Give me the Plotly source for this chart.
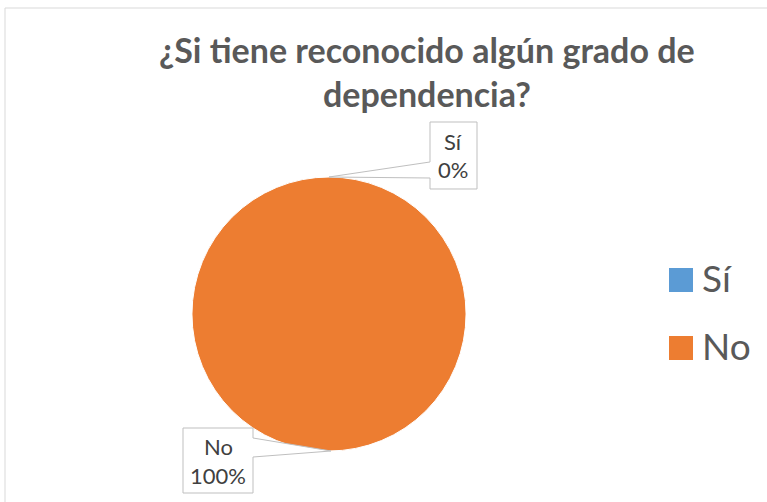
import plotly.graph_objects as go

# data
labels = ['Sí', 'No']
values = [0, 100]
colors = ['#5B9BD5', '#ED7D31']
title_lines = ['¿Si tiene reconocido algún grado de', 'dependencia?']

W, H = 767, 502


def px(x):
    return x / W


def py(y):
    return 1 - y / H


total = sum(values)
pcts = ['%d%%' % round(100 * v / total) for v in values]

fig = go.Figure()
fig.add_trace(go.Pie(labels=labels, values=values,
                     marker=dict(colors=colors, line=dict(color='white', width=1)),
                     textinfo='none', sort=False, direction='clockwise',
                     rotation=0, showlegend=False,
                     domain=dict(x=[px(192), px(466)], y=[py(451), py(177)])))

shapes = []
annotations = []

# chart area border
shapes.append(dict(type='rect', xref='paper', yref='paper',
                   x0=px(5), x1=px(800), y0=py(8), y1=py(520),
                   line=dict(color='#D9D9D9', width=1)))

# title
for i, t in enumerate(title_lines):
    annotations.append(dict(text='<b>%s</b>' % t, xref='paper', yref='paper',
                            x=px(427), y=py(49 + 44 * i), showarrow=False,
                            xanchor='center', yanchor='middle',
                            font=dict(family='Lato', size=34, color='#595959')))

# callout boxes: box (x0, y0, x1, y1), wedge side, wedge y's, anchor on pie
callouts = [
    dict(box=(430, 122, 477, 189), side='left', wy=(162, 178), anchor=(329, 177)),
    dict(box=(183, 428, 253, 493), side='right', wy=(438, 457), anchor=(331, 451)),
]
for i, c in enumerate(callouts):
    x0, y0, x1, y1 = c['box']
    ax, ay = c['anchor']
    wa, wb = c['wy']
    if c['side'] == 'left':
        pts = [(x0, y0), (x1, y0), (x1, y1), (x0, y1), (x0, wb), (ax, ay), (x0, wa)]
    else:
        pts = [(x0, y0), (x1, y0), (x1, wa), (ax, ay), (x1, wb), (x1, y1), (x0, y1)]
    path = 'M ' + ' L '.join('%f,%f' % (px(a), py(b)) for a, b in pts) + ' Z'
    shapes.append(dict(type='path', xref='paper', yref='paper', path=path,
                       fillcolor='white', line=dict(color='#BFBFBF', width=1)))
    cx = (x0 + x1) / 2
    cy = (y0 + y1) / 2
    for j, t in enumerate([labels[i], pcts[i]]):
        annotations.append(dict(text=t, xref='paper', yref='paper',
                                x=px(cx), y=py(cy - 14.5 + 29 * j), showarrow=False,
                                xanchor='center', yanchor='middle',
                                font=dict(family='Lato', size=22, color='#404040')))

# legend
for i, lab in enumerate(labels):
    yc = 280 + 68 * i
    shapes.append(dict(type='rect', xref='paper', yref='paper',
                       x0=px(669), x1=px(693), y0=py(yc - 12), y1=py(yc + 12),
                       fillcolor=colors[i], line=dict(width=0)))
    annotations.append(dict(text=lab, xref='paper', yref='paper',
                            x=px(700), y=py(yc - 3), showarrow=False,
                            xanchor='left', yanchor='middle',
                            font=dict(family='Lato', size=37, color='#595959')))

fig.update_layout(width=W, height=H, margin=dict(l=0, r=0, t=0, b=0),
                  paper_bgcolor='white', plot_bgcolor='white',
                  shapes=shapes, annotations=annotations)

fig.write_html('out.html', config={'displayModeBar': False},
               post_script="document.body.style.margin='0';document.body.style.overflow='hidden';")
